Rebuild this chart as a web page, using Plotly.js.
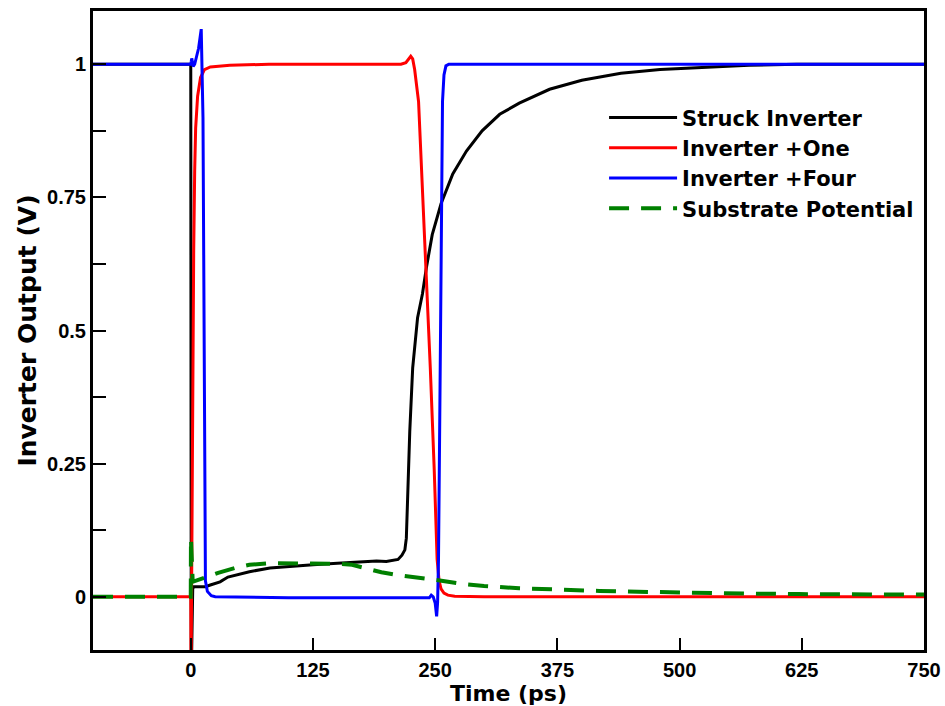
<!DOCTYPE html>
<html>
<head>
<meta charset="utf-8">
<script src="https://cdn.plot.ly/plotly-3.0.1.min.js"></script>
<style>html,body{margin:0;padding:0;background:#fff;}#chart{width:945px;height:706px;}</style>
</head>
<body>
<div id="chart"></div>
<script>
// Struck Inverter
const struckT = [-100, 0, 0.5, 1, 2, 3, 8, 15, 20, 30, 38, 47, 60, 81, 100, 125, 150, 175, 190, 200, 208, 212, 216, 219, 220.5, 222, 224, 227, 230.6, 232, 237, 241, 247, 256, 268, 282, 298, 316, 336, 367, 400, 440, 480, 520, 571, 620, 750];
const struckV = [1, 1, -0.15, -0.05, 0.015, 0.019, 0.019, 0.019, 0.022, 0.028, 0.037, 0.041, 0.047, 0.054, 0.057, 0.06, 0.063, 0.066, 0.067, 0.066, 0.068, 0.07, 0.078, 0.088, 0.11, 0.2, 0.31, 0.43, 0.494, 0.524, 0.569, 0.618, 0.68, 0.738, 0.794, 0.837, 0.875, 0.906, 0.927, 0.953, 0.97, 0.983, 0.99, 0.994, 0.998, 1.0, 1.0];
// Inverter +One
const oneT = [-100, -0.5, 0, 0.3, 1, 2, 3, 4, 5, 7, 10, 14, 20, 40, 80, 150, 200, 215, 220, 223, 225, 227, 229, 233, 237, 241, 245, 249, 252, 254, 256, 259, 263, 270, 300, 750];
const oneV = [0, 0, 0, -0.15, 0.1, 0.4, 0.65, 0.8, 0.88, 0.94, 0.975, 0.99, 0.995, 0.998, 1.0, 1.0, 1.0, 1.0, 1.003, 1.01, 1.015, 1.01, 0.99, 0.93, 0.77, 0.6, 0.43, 0.24, 0.07, 0.03, 0.015, 0.007, 0.003, 0.001, 0, 0];
// Inverter +Four
const fourT = [-100, 0, 0.5, 1, 2.5, 4, 6, 8, 9.5, 10.7, 12.5, 13.5, 14.3, 15, 17, 21, 25, 100, 200, 244, 246, 248, 250, 251.5, 252.5, 253.4, 255.5, 257.5, 259, 261, 264, 300, 750];
const fourV = [1, 1, 1.005, 1.011, 0.996, 1.0, 1.015, 1.03, 1.05, 1.066, 0.9, 0.5, 0.1, 0.03, 0.01, 0.002, 0.0, -0.002, -0.002, -0.002, 0.003, 0.0, -0.012, -0.037, -0.01, 0.07, 0.5, 0.93, 0.98, 0.997, 1.0, 1.0, 1.0];
// Substrate Potential
const subT = [-100, -0.5, 0, 0.2, 0.8, 2, 16, 28, 45, 60, 80, 100, 125, 150, 165, 180, 195, 210, 225, 245, 278, 300, 336, 375, 418, 470, 520, 570, 622, 680, 750];
const subV = [0, 0, 0, 0.11, 0.06, 0.028, 0.037, 0.045, 0.054, 0.06, 0.063, 0.063, 0.063, 0.062, 0.06, 0.053, 0.046, 0.041, 0.038, 0.033, 0.024, 0.02, 0.016, 0.013, 0.011, 0.009, 0.007, 0.006, 0.005, 0.004, 0.004];

const xTicks = [0, 125, 250, 375, 500, 625, 750];
const yTicks = [0, 0.25, 0.5, 0.75, 1];
const yTickText = ['0', '0.25', '0.5', '0.75', '1'];

const FONT = 'Liberation Sans, Arial, Helvetica, sans-serif';
const WIDE = 'DejaVu Sans, Liberation Sans, sans-serif';

const traces = [
  {x: struckT, y: struckV, name: 'Struck Inverter', mode: 'lines', line: {color: '#000000', width: 3}},
  {x: oneT, y: oneV, name: 'Inverter +One', mode: 'lines', line: {color: '#ff0000', width: 3}},
  {x: fourT, y: fourV, name: 'Inverter +Four', mode: 'lines', line: {color: '#0000ff', width: 3}},
  {x: subT, y: subV, name: 'Substrate Potential', mode: 'lines', line: {color: '#008000', width: 4, dash: '20px,12px'}}
];

const layout = {
  width: 945, height: 706,
  margin: {l: 93, r: 21, t: 11, b: 56},
  paper_bgcolor: '#ffffff', plot_bgcolor: '#ffffff',
  font: {family: FONT, color: '#000', size: 20, weight: 'bold'},
  showlegend: true,
  legend: {x: 0.615, y: 0.865, xanchor: 'left', yanchor: 'top', bgcolor: 'rgba(0,0,0,0)', borderwidth: 0,
           font: {family: WIDE, size: 21, weight: 'bold', color: '#000'}, itemwidth: 68, tracegroupgap: 0},
  xaxis: {
    range: [-100, 750], tickvals: xTicks, ticktext: xTicks.map(String),
    ticks: 'inside', ticklen: 12, tickwidth: 2, tickcolor: '#000',
    showline: true, linewidth: 3, linecolor: '#000', mirror: true,
    showgrid: false, zeroline: false,
    tickfont: {family: FONT, size: 20, weight: 'bold'},
    title: {text: 'Time (ps)', font: {family: WIDE, size: 22, weight: 'bold'}, standoff: 2}
  },
  yaxis: {
    range: [-0.1, 1.1], tickvals: yTicks, ticktext: yTickText,
    ticks: 'inside', ticklen: 13, tickwidth: 2, tickcolor: '#000',
    minor: {dtick: 0.125, tick0: 0, ticks: 'inside', ticklen: 13, tickwidth: 2, tickcolor: '#000', showgrid: false},
    showline: true, linewidth: 3, linecolor: '#000', mirror: true,
    showgrid: false, zeroline: false,
    tickfont: {family: FONT, size: 20, weight: 'bold'},
    title: {text: 'Inverter Output (V)', font: {family: WIDE, size: 25, weight: 'bold'}, standoff: 4}
  }
};

Plotly.newPlot('chart', traces, layout, {displayModeBar: false, staticPlot: true});
</script>
</body>
</html>
